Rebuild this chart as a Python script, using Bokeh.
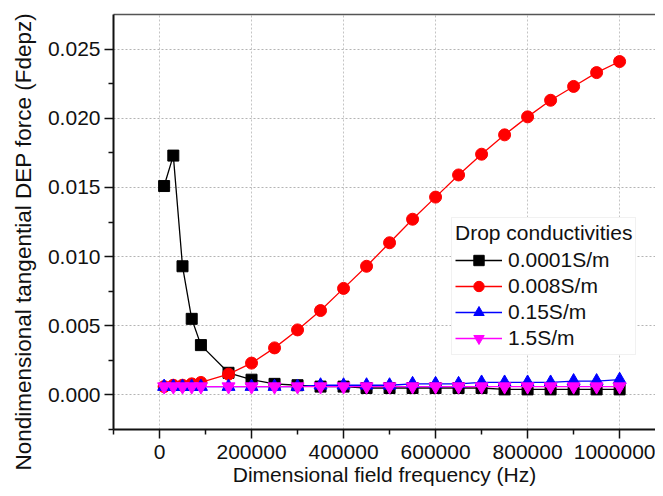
from bokeh.plotting import figure
from bokeh.models import (Range1d, FixedTicker, Legend, LegendItem, LinearAxis, Title)
from bokeh.embed import file_html
from bokeh.resources import INLINE

# ---- data ----
freq = [10000, 30000, 50000, 70000, 90000, 150000, 200000, 250000, 300000, 350000,
        400000, 450000, 500000, 550000, 600000, 650000, 700000, 750000, 800000,
        850000, 900000, 950000, 1000000]
s_0001 = [0.0151, 0.0173, 0.0093, 0.0055, 0.0036, 0.0016, 0.0011, 0.0008, 0.0007, 0.0006,
          0.0006, 0.0005, 0.0005, 0.0005, 0.0005, 0.0005, 0.0005, 0.0004, 0.0004,
          0.0004, 0.0004, 0.0004, 0.0004]
s_008 = [0.0006, 0.0007, 0.0007, 0.0008, 0.0009, 0.0015, 0.0023, 0.0034, 0.0047, 0.0061,
         0.0077, 0.0093, 0.0110, 0.0127, 0.0143, 0.0159, 0.0174, 0.0188, 0.0201,
         0.0213, 0.0223, 0.0233, 0.0241]
s_015 = [0.0006, 0.0006, 0.0006, 0.0006, 0.0006, 0.0006, 0.0006, 0.0006, 0.0006, 0.0007,
         0.0007, 0.0007, 0.0007, 0.0008, 0.0008, 0.0008, 0.0009, 0.0009, 0.0009,
         0.0009, 0.0010, 0.0010, 0.0011]
s_15 = [0.0006, 0.0006, 0.0006, 0.0006, 0.0006, 0.0006, 0.0006, 0.0006, 0.0006, 0.0006,
        0.0006, 0.0006, 0.0006, 0.0006, 0.0006, 0.0006, 0.0006, 0.0006, 0.0006,
        0.0006, 0.0006, 0.0006, 0.0006]
series_labels = ["0.0001S/m", "0.008S/m", "0.15S/m", "1.5S/m"]
x_ticks = [0, 200000, 400000, 600000, 800000, 1000000]
x_minor = [-100000, 100000, 300000, 500000, 700000, 900000]
y_ticks = [0.0, 0.005, 0.010, 0.015, 0.020, 0.025]
y_minor = [-0.0025, 0.0025, 0.0075, 0.0125, 0.0175, 0.0225]
x_title = "Dimensional field frequency (Hz)"
y_title = "Nondimensional tangential DEP force (Fdepz)"
legend_title = "Drop conductivities"

FONT = "Liberation Sans"
INK = "#111111"

p = figure(frame_width=542, frame_height=415, output_backend="svg", toolbar_location=None,
           x_range=Range1d(-100000, 1078000), y_range=Range1d(-0.0025, 0.0275),
           min_border_left=113, min_border_top=14, min_border_right=0, min_border_bottom=62)
p.outline_line_color = None
p.background_fill_color = "white"
p.border_fill_color = "white"

p.xaxis.ticker = FixedTicker(ticks=x_ticks, minor_ticks=x_minor)
p.yaxis.ticker = FixedTicker(ticks=y_ticks, minor_ticks=y_minor)
p.xaxis.major_label_overrides = {t: str(t) for t in x_ticks}
p.yaxis.major_label_overrides = {t: "%.3f" % t for t in y_ticks}

for ax in (p.xaxis, p.yaxis):
    ax.axis_line_width = 2
    ax.axis_line_color = INK
    ax.major_tick_line_color = INK
    ax.minor_tick_line_color = INK
    ax.major_tick_line_width = 1.5
    ax.minor_tick_line_width = 1.5
    ax.major_tick_in = 0
    ax.major_tick_out = 9
    ax.minor_tick_in = 0
    ax.minor_tick_out = 5
    ax.major_label_text_font = FONT
    ax.major_label_text_font_size = "21px"
    ax.major_label_text_color = INK
    ax.axis_label_text_font = FONT
    ax.axis_label_text_font_size = "21px"
    ax.axis_label_text_font_style = "normal"
    ax.axis_label_text_color = INK

p.xaxis.axis_label = x_title
p.xaxis.major_label_standoff = 6
p.xaxis.axis_label_standoff = 1
p.yaxis.major_label_standoff = 4

top_axis = LinearAxis(axis_line_color="#555555", axis_line_width=1.5,
                      major_tick_line_color=None, minor_tick_line_color=None,
                      major_label_text_font_size="0px", major_label_standoff=0,
                      major_tick_out=0, minor_tick_out=0)
p.add_layout(top_axis, "above")

# y axis title, placed as a side title so it can sit where the reference has it
p.add_layout(Title(text=y_title, align="left", offset=-41, standoff=14, vertical_align="top",
                   text_font=FONT, text_font_size="22.5px", text_font_style="normal",
                   text_color=INK), "left")

p.xgrid.grid_line_color = "#c4c4c4"
p.xgrid.grid_line_dash = "2 2"
p.ygrid.grid_line_color = "#b4b4b4"
p.ygrid.grid_line_dash = "2 2"
p.xgrid.ticker = FixedTicker(ticks=x_ticks)
p.ygrid.ticker = FixedTicker(ticks=y_ticks)

colors = ["#000000", "#ff0000", "#0000ff", "#ff00ff"]
markers = ["square", "circle", "triangle", "inverted_triangle"]
sizes = [11, 12, 13, 13]
data = [s_0001, s_008, s_015, s_15]

items = []
for lab, col, mk, sz, ys in zip(series_labels, colors, markers, sizes, data):
    l = p.line(freq, ys, line_color=col, line_width=1.3)
    s = p.scatter(freq, ys, marker=mk, size=sz, fill_color=col, line_color=col)
    items.append(LegendItem(label=lab, renderers=[l, s]))

legend = Legend(items=items, location=(338, 74), title=legend_title,
                title_text_font=FONT, title_text_font_size="21px", title_text_font_style="normal",
                title_text_color=INK,
                label_text_font=FONT, label_text_font_size="21px", label_text_color=INK,
                glyph_width=47, glyph_height=26, label_height=26, spacing=0,
                padding=3, margin=0, title_standoff=2, label_standoff=6,
                border_line_color="#e4e4e4", background_fill_color="white",
                background_fill_alpha=1.0)
p.add_layout(legend, "center")

open("out.html", "w").write(file_html(p, INLINE))
